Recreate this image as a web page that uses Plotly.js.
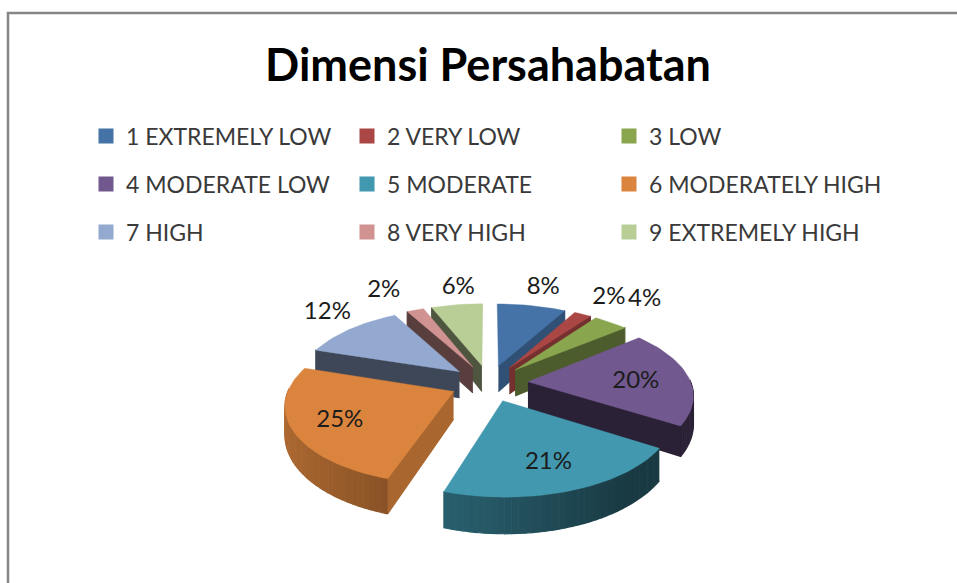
<!DOCTYPE html>
<html><head><meta charset="utf-8">
<script src="https://cdn.plot.ly/plotly-3.0.1.min.js"></script>
<style>html,body{margin:0;padding:0;background:#fff}#c{width:957px;height:583px}</style>
</head><body><div id="c"></div>
<script>
const categories = ['1 EXTREMELY LOW','2 VERY LOW','3 LOW','4 MODERATE LOW','5 MODERATE','6 MODERATELY HIGH','7 HIGH','8 VERY HIGH','9 EXTREMELY HIGH'];
const values = [8,2,4,20,21,25,12,2,6];
const colors = ['#4572A7','#AA4643','#89A54E','#71588F','#4198AF','#DB843D','#93A9CF','#D19392','#B9CD96'];
const radialShade = [0.70,0.68,0.56,0.38,0.5,0.77,0.42,0.42,0.42];
const labelRadius = [1.66,1.66,1.78,0.91,0.935,0.96,1.61,1.74,1.62];
const labelTurn = [0,0,-3,0,0,0,4.4,-2,2.5];
const legendColumns = [86,347,609];
const legendRowsY = [136,184,232];

const FONT='Lato, "Open Sans", sans-serif';
// oblique projection of the exploded pie
const P={cx:489,cy:383,A:163,B:76,k:0.15,D:27,E:0.24,labelDrop:3};
function proj(X,Y,low){
  const s=1/(1+P.k*Y);
  return [P.cx+P.A*X*s, P.cy-P.B*Y*s+(low?P.D*Math.pow(s,1.5):0)];
}
const rad=d=>d*Math.PI/180;
function shade(hex,f){
  const n=parseInt(hex.slice(1),16);
  return `rgb(${Math.round((n>>16&255)*f)},${Math.round((n>>8&255)*f)},${Math.round((n&255)*f)})`;
}
function rimShade(a){ // a: clockwise degrees from top
  const nx=Math.sin(rad(a));
  return nx<0 ? 0.55+0.25*(-nx) : 0.55-0.17*Math.min(1,nx*1.6);
}
const traces=[];
function poly(pts,color,name){
  traces.push({type:'scatter',mode:'lines',x:pts.map(p=>p[0]),y:pts.map(p=>p[1]),
    fill:'toself',fillcolor:color,line:{color:color,width:name?0.4:1.2},showlegend:false,
    hoverinfo:name?'text':'skip',text:name||'',hoveron:'fills'});
}
const total=values.reduce((a,b)=>a+b,0);
let acc=0;
const slices=values.map((v,i)=>{
  const a0=acc/total*360; acc+=v; const a1=acc/total*360; const mid=(a0+a1)/2;
  return {i,a0,a1,mid,ox:P.E*Math.sin(rad(mid)),oy:P.E*Math.cos(rad(mid))};
});
const rim=(s,a)=>[s.ox+Math.sin(rad(a)),s.oy+Math.cos(rad(a))];
const order=slices.slice().sort((p,q)=>q.oy-p.oy);
order.forEach(s=>{
  const c=colors[s.i];
  const apex=[s.ox,s.oy];
  const radial=(a)=>{const r=rim(s,a);
    poly([proj(apex[0],apex[1]),proj(r[0],r[1]),proj(r[0],r[1],1),proj(apex[0],apex[1],1)],shade(c,radialShade[s.i]));};
  if(Math.sin(rad(s.a0))<0) radial(s.a0);
  if(Math.sin(rad(s.a1))>0) radial(s.a1);
  const n=Math.max(1,Math.ceil((s.a1-s.a0)/2));
  for(let j=0;j<n;j++){
    const b0=s.a0+(s.a1-s.a0)*j/n,b1=s.a0+(s.a1-s.a0)*(j+1)/n,bm=(b0+b1)/2;
    if(Math.cos(rad(bm))>=0.02) continue;
    const r0=rim(s,b0),r1=rim(s,b1);
    poly([proj(r0[0],r0[1]),proj(r1[0],r1[1]),proj(r1[0],r1[1],1),proj(r0[0],r0[1],1)],shade(c,rimShade(bm)));
  }
  const top=[proj(apex[0],apex[1])];
  const m=Math.max(2,Math.ceil((s.a1-s.a0)/2));
  for(let j=0;j<=m;j++){const r=rim(s,s.a0+(s.a1-s.a0)*j/m);top.push(proj(r[0],r[1]));}
  top.push(proj(apex[0],apex[1]));
  poly(top,c,categories[s.i]+': '+values[s.i]+'%');
});
// percentage labels
const lab=slices.map(s=>{const a=rad(s.mid+labelTurn[s.i]),r=labelRadius[s.i];return proj(r*Math.sin(a),r*Math.cos(a));});
traces.push({type:'scatter',mode:'text',x:lab.map(p=>p[0]),y:lab.map(p=>p[1]+P.labelDrop),
  text:values.map(v=>v+'%'),textposition:'middle center',
  textfont:{family:FONT,size:24,color:'#1c1c1c'},showlegend:false,hoverinfo:'skip'});
// one legend per entry, laid out as the three-by-three block
const layout={
  width:957,height:583,margin:{l:0,r:0,t:0,b:0},paper_bgcolor:'#fff',plot_bgcolor:'#fff',
  title:{text:'<b>Dimensi Persahabatan</b>',font:{family:FONT,size:45,color:'#000'},x:488/957,xanchor:'center',xref:'paper',y:1-65/583,yanchor:'middle'},
  xaxis:{range:[0,957],visible:false,fixedrange:true},
  yaxis:{range:[583,0],visible:false,fixedrange:true},
  shapes:[{type:'path',xref:'x',yref:'y',path:'M8,583 L8,13 L957,13',line:{color:'#868686',width:2.5}}],
  showlegend:true
};
categories.forEach((name,i)=>{
  const id=i===0?'legend':'legend'+(i+1);
  traces.push({type:'scatter',mode:'markers',x:[null],y:[null],name:name,legend:id,
    marker:{symbol:'square',size:15,color:colors[i]},hoverinfo:'skip'});
  layout[id]={orientation:'v',x:legendColumns[i%3]/957,xanchor:'left',y:1-legendRowsY[Math.floor(i/3)]/583,yanchor:'middle',
    itemsizing:'trace',bgcolor:'rgba(0,0,0,0)',borderwidth:0,
    font:{family:FONT,size:23,color:'#3a3a3a'}};
});
Plotly.newPlot('c',traces,layout,{displayModeBar:false});
</script></body></html>
